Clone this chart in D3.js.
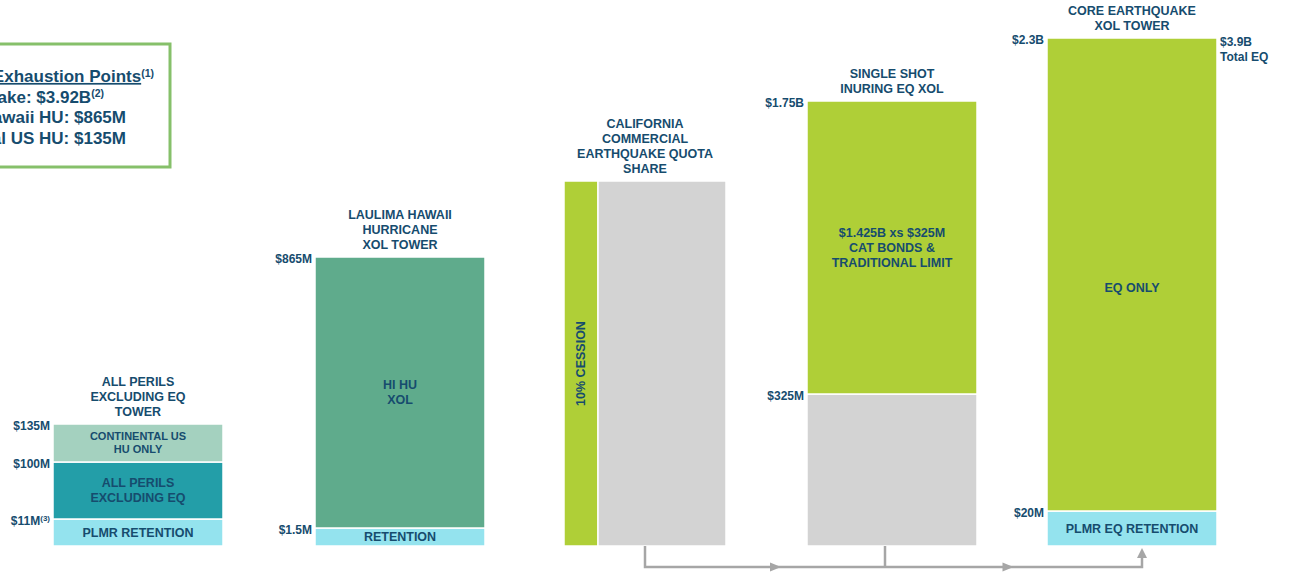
<!DOCTYPE html>
<meta charset="utf-8">
<style>
body { margin: 0; background: #fff; }
svg { display: block; font-family: "Liberation Sans", Arial, sans-serif; font-weight: bold; }
.lbl { fill: #164c6e; }
</style>
<svg width="1292" height="572"></svg>
<script src="https://cdnjs.cloudflare.com/ajax/libs/d3/7.8.5/d3.min.js"></script>
<script>

// towers, left to right
var towers = ["allPerils", "hawaii", "caQS", "singleShot", "coreEQ"];

var towerTitles = [
  ["ALL PERILS", "EXCLUDING EQ", "TOWER"],
  ["LAULIMA HAWAII", "HURRICANE", "XOL TOWER"],
  ["CALIFORNIA", "COMMERCIAL", "EARTHQUAKE QUOTA", "SHARE"],
  ["SINGLE SHOT", "INURING EQ XOL"],
  ["CORE EARTHQUAKE", "XOL TOWER"]
];

// layers: limits in $M
var layers = [
  {tower: "allPerils", from: 0, to: 11, kind: "retention", label: ["PLMR RETENTION"]},
  {tower: "allPerils", from: 11, to: 100, kind: "allPerils", label: ["ALL PERILS", "EXCLUDING EQ"]},
  {tower: "allPerils", from: 100, to: 135, kind: "contUS", label: ["CONTINENTAL US", "HU ONLY"]},
  {tower: "hawaii", from: 0, to: 1.5, kind: "retention", label: ["RETENTION"]},
  {tower: "hawaii", from: 1.5, to: 865, kind: "hiHU", label: ["HI HU", "XOL"]},
  {tower: "caQS", from: 0, to: 1340, kind: "ceded", share: [0, 0.1], label: []},
  {tower: "caQS", from: 0, to: 1340, kind: "retained", share: [0.1, 1], label: []},
  {tower: "singleShot", from: 0, to: 325, kind: "retained", label: []},
  {tower: "singleShot", from: 325, to: 1750, kind: "ceded", label: ["$1.425B xs $325M", "CAT BONDS &", "TRADITIONAL LIMIT"]},
  {tower: "coreEQ", from: 0, to: 20, kind: "retention", label: ["PLMR EQ RETENTION"]},
  {tower: "coreEQ", from: 20, to: 2300, kind: "ceded", label: ["EQ ONLY"]}
];

var attachLabels = [
  {tower: "allPerils", value: 135, text: "$135M"},
  {tower: "allPerils", value: 100, text: "$100M"},
  {tower: "allPerils", value: 11, text: "$11M", sup: "(3)"},
  {tower: "hawaii", value: 865, text: "$865M"},
  {tower: "hawaii", value: 1.5, text: "$1.5M"},
  {tower: "singleShot", value: 1750, text: "$1.75B"},
  {tower: "singleShot", value: 325, text: "$325M"},
  {tower: "coreEQ", value: 2300, text: "$2.3B"},
  {tower: "coreEQ", value: 20, text: "$20M"}
];

var totalLabel = {tower: "coreEQ", value: 2300, text: ["$3.9B", "Total EQ"]};

var exhaustion = [
  {text: "Exhaustion Points", sup: "(1)", head: true},
  {text: "Earthquake: $3.92B", sup: "(2)"},
  {text: "Laulima Hawaii HU: $865M"},
  {text: "Continental US HU: $135M"}
];

var cessionLabel = "10% CESSION";

var svg = d3.select("svg");

var colour = d3.scaleOrdinal()
  .domain(["retention", "allPerils", "contUS", "hiHU", "ceded", "retained"])
  .range(["#94e3ee", "#239ea8", "#a4d1bf", "#5fab8c", "#afcf37", "#d3d3d3"]);

// schematic piecewise y scale ($M -> px)
var y = d3.scaleLinear()
  .domain([0, 1.5, 11, 20, 100, 135, 325, 865, 1340, 1750, 2300])
  .range([546, 528, 519, 511, 462, 424, 394, 257, 181, 101, 38]);

var xLeft = d3.scaleOrdinal().domain(towers).range([53, 315, 564, 807, 1047]);
var towerW = 170;
var shareX = d3.scaleLinear().domain([0, 0.1, 1]).range([0, 34, towerW - 8]);

function w(d) { return d.tower === "caQS" ? towerW - 8 : towerW; }
function cx(t) { return xLeft(t) + (t === "caQS" ? towerW - 8 : towerW) / 2; }

// legend box (its left part runs off the page, as in the source slide)
var lg = svg.append("g");
lg.append("rect")
  .attr("x", -10).attr("y", 44).attr("width", 180).attr("height", 123)
  .attr("fill", "#fff").attr("stroke", "#86c06a").attr("stroke-width", 3);

var ly = d3.scaleLinear().domain([0, 3]).range([76, 138]);
exhaustion.forEach(function(d, i) {
  var t = lg.append("text").attr("class", "lbl")
    .attr("x", d.head ? 154 : (d.sup ? 104 : 126))
    .attr("y", ly(i)).attr("dy", "0.35em")
    .attr("text-anchor", "end").attr("font-size", 17);
  var main = t.append("tspan").text(d.text);
  if (d.head) main.attr("text-decoration", "underline");
  if (d.sup) t.append("tspan").attr("font-size", 10.5).attr("dy", "-0.5em").text(d.sup);
});

// layers
var g = svg.append("g");
g.selectAll("rect.layer")
  .data(layers)
  .enter().append("rect")
    .attr("class", "layer")
    .attr("x", function(d) { return xLeft(d.tower) + (d.share ? shareX(d.share[0]) : 0); })
    .attr("width", function(d) { return d.share ? shareX(d.share[1]) - shareX(d.share[0]) : w(d); })
    .attr("y", function(d) { return y(d.to); })
    .attr("height", function(d) { return y(d.from) - y(d.to); })
    .attr("fill", function(d) { return colour(d.kind); })
    .attr("stroke", "#fff").attr("stroke-width", 1.5);

layers.forEach(function(d) {
  var mid = (y(d.from) + y(d.to)) / 2 + (d.label[0] === "EQ ONLY" ? 13 : 0);
  var n = d.label.length;
  var fs = d.kind === "contUS" ? 11 : 12.5;
  var lh = d.kind === "contUS" ? 13 : 15;
  d.label.forEach(function(s, i) {
    g.append("text").attr("class", "lbl")
      .attr("x", xLeft(d.tower) + w(d) / 2)
      .attr("y", mid + (i - (n - 1) / 2) * lh)
      .attr("dy", "0.35em")
      .attr("text-anchor", "middle")
      .attr("font-size", fs)
      .text(s);
  });
});

// rotated cession label
var ced = layers.filter(function(d) { return d.tower === "caQS" && d.share && d.share[0] === 0; })[0];
g.append("text").attr("class", "lbl")
  .attr("transform", "translate(" + (xLeft("caQS") + shareX(0.1) / 2) + "," + (y(ced.from) + y(ced.to)) / 2 + ") rotate(-90)")
  .attr("dy", "0.35em")
  .attr("text-anchor", "middle")
  .attr("font-size", 12.5)
  .text(cessionLabel);

// tower titles
towerTitles.forEach(function(lines, i) {
  var t = towers[i];
  var top = d3.max(layers.filter(function(d) { return d.tower === t; }), function(d) { return d.to; });
  var n = lines.length;
  lines.forEach(function(s, j) {
    svg.append("text").attr("class", "lbl")
      .attr("x", cx(t))
      .attr("y", y(top) - 12 - (n - 1 - j) * 15)
      .attr("dy", "0.35em")
      .attr("text-anchor", "middle")
      .attr("font-size", 12.5)
      .text(s);
  });
});

// attachment labels
attachLabels.forEach(function(d) {
  var t = svg.append("text").attr("class", "lbl")
    .attr("x", xLeft(d.tower) - 3)
    .attr("y", y(d.value) + 2)
    .attr("dy", "0.35em")
    .attr("text-anchor", "end")
    .attr("font-size", 12);
  t.append("tspan").text(d.text);
  if (d.sup) t.append("tspan").attr("font-size", 8).attr("dy", "-0.5em").text(d.sup);
});

totalLabel.text.forEach(function(s, i) {
  svg.append("text").attr("class", "lbl")
    .attr("x", xLeft(totalLabel.tower) + towerW + 3)
    .attr("y", y(totalLabel.value) + 4 + i * 15)
    .attr("dy", "0.35em")
    .attr("font-size", 12)
    .text(s);
});

// flow arrows along the bottom
var base = y(0), lineY = base + 21;
var a = cx("caQS"), b = cx("singleShot") - 7, c = cx("coreEQ") + 10;
var arrow = svg.append("g").attr("stroke", "#a6a6a6").attr("stroke-width", 2.5).attr("fill", "none");
arrow.append("path")
  .attr("d", d3.line()([[a, base], [a, lineY], [c, lineY], [c, base + 6]]));
arrow.append("path")
  .attr("d", d3.line()([[b, base], [b, lineY]]));

var heads = svg.append("g").attr("fill", "#a6a6a6");
[(a + b) / 2 + 14, (b + c) / 2 - 2].forEach(function(px) {
  heads.append("path").attr("d", d3.line()([[px - 9, lineY - 4.5], [px + 2, lineY], [px - 9, lineY + 4.5]]));
});
heads.append("path").attr("d", d3.line()([[c - 5, base + 12], [c, base + 2], [c + 5, base + 12]]));

</script>
